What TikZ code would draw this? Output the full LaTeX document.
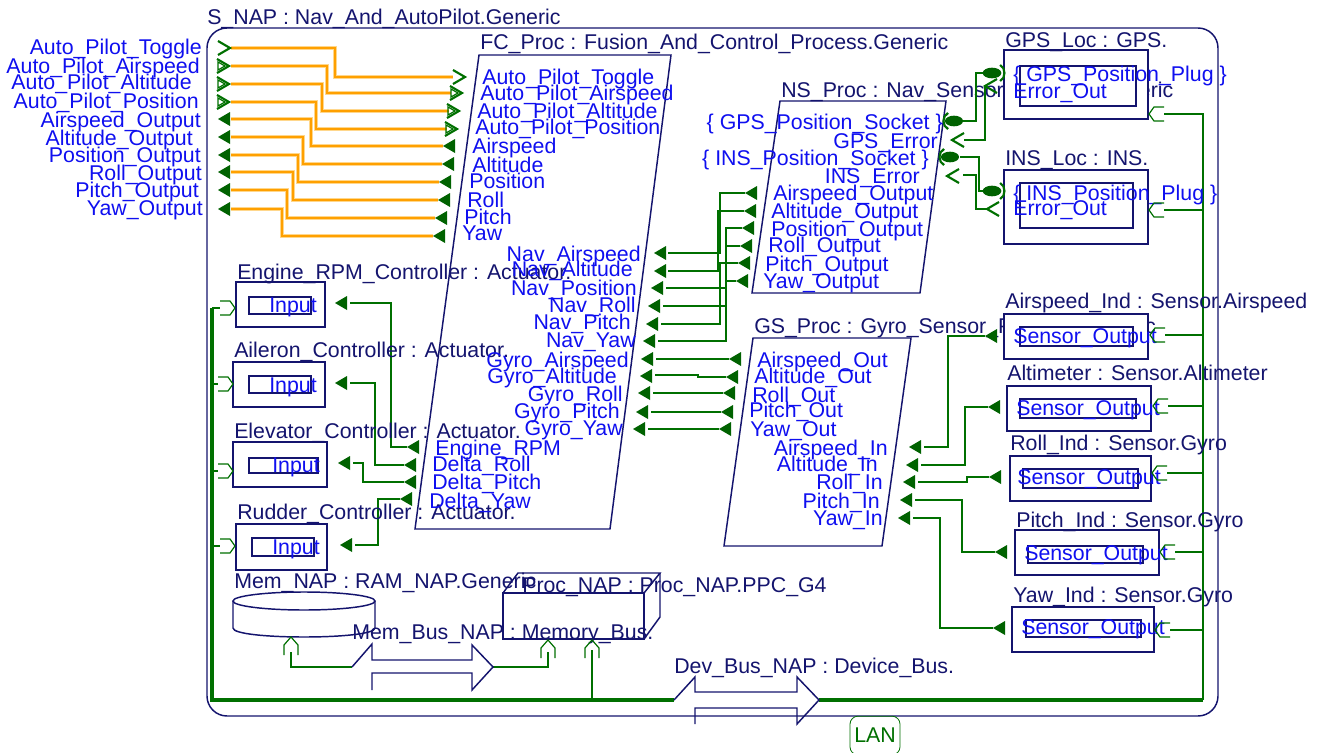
\documentclass[tikz,border=0pt]{standalone}
\usepackage{fontspec}
\setmainfont{Liberation Sans}
\definecolor{navy}{RGB}{20,20,110}
\definecolor{pblue}{RGB}{15,15,240}
\definecolor{gr}{RGB}{0,112,0}
\definecolor{grd}{RGB}{0,98,0}
\definecolor{orng}{RGB}{255,160,0}
\definecolor{orngl}{RGB}{255,215,140}
\tikzset{
 comp/.style={draw=navy,line width=1.1pt},
 compw/.style={draw=navy,line width=1.1pt,fill=white},
 clbl/.style={text=navy,font=\fontsize{16}{16}\selectfont,inner sep=0pt},
 plbl/.style={text=pblue,font=\fontsize{16}{16}\selectfont,inner sep=0pt},
 gline/.style={draw=gr,line width=1.6pt},
 oline/.style={draw=orng,line width=2pt,preaction={draw=orngl,line width=3pt}},
 busv/.style={draw=gr,line width=2pt},
 bush/.style={draw=gr,line width=2.6pt},
 gp/.style={draw=gr,line width=1.6pt},
 gpt/.style={draw=gr,line width=0.9pt},
 dtri/.pic={\fill[grd] (0,0) -- (12,-7) -- (12,7) -- cycle;},
 evr/.pic={\draw[gp] (-12,-7) -- (0,0) -- (-12,7);},
 devr/.pic={\draw[gp] (-12,-7) -- (0,0) -- (-12,7); \draw[gpt] (-11,-4) -- (-4,0) -- (-11,4) -- cycle;},
 evl/.pic={\draw[gp] (12,-7) -- (0,0) -- (12,7);},
 sockl/.pic={\draw[gp] (6,-8) .. controls (0,-5) and (0,5) .. (6,8); \fill[grd] (12,0) ellipse [x radius=6.8pt,y radius=4pt];},
 plugr/.pic={\fill[grd] (0,0) ellipse [x radius=7pt,y radius=4pt]; \draw[gp] (8,-8) .. controls (14,-5) and (14,5) .. (8,8);},
 bout/.pic={\draw[gpt] (15,-7) -- (5,-7) -- (0,0) -- (5,7) -- (15,7);},
 bin/.pic={\draw[gpt] (-15,-7) -- (-5,-7) -- (0,0) -- (-5,7) -- (-15,7);},
 bup/.pic={\draw[gpt] (-7,18) -- (-7,8) -- (0,0) -- (7,8) -- (7,18);},
}
\begin{document}
\begin{tikzpicture}[x=0.75pt,y=-0.75pt]
\useasboundingbox (0,0) rectangle (1318,753);
\fill[white] (0,0) rectangle (1318,753);

% ---------- system border ----------
\draw[comp,rounded corners=15pt] (207,28) rectangle (1218,716);
\node[clbl,anchor=base west] (tSNAP) at (207,24) {S\_NAP : Nav\_And\_AutoPilot.Generic};

% ---------- processes ----------
\draw[comp] (479,55) -- (671,55) -- (610,529) -- (415,529) -- cycle;
\node[clbl,anchor=base west] (tFC) at (480,49) {FC\_Proc : Fusion\_And\_Control\_Process.Generic};
\draw[comp] (780,101) -- (946,101) -- (920,293) -- (752,293) -- cycle;
\node[clbl,anchor=base west] (tNS) at (781,97) {NS\_Proc : Nav\_Sensor\_Process.Generic};
\draw[comp] (753,338) -- (911,338) -- (882,546) -- (724,546) -- cycle;
\node[clbl,anchor=base west] (tGS) at (754,333) {GS\_Proc : Gyro\_Sensor\_Process.Generic};

% ---------- coordinates of ports ----------
\coordinate (oT) at (231,48);   \coordinate (fT) at (453,77);
\coordinate (oAs) at (231,66);  \coordinate (fAs) at (451,93);
\coordinate (oAl) at (231,84);  \coordinate (fAl) at (449,111);
\coordinate (oPo) at (231,102); \coordinate (fPo) at (447,129);
\coordinate (oAO) at (231,119); \coordinate (fA) at (443,146);
\coordinate (oAlO) at (231,137);\coordinate (fAl2) at (442,164);
\coordinate (oPO) at (231,155); \coordinate (fP) at (439,182);
\coordinate (oRO) at (231,172); \coordinate (fR) at (438,200);
\coordinate (oPiO) at (231,190);\coordinate (fPi) at (435,218);
\coordinate (oYO) at (231,209); \coordinate (fY) at (433,236);

% orange connections
\draw[oline] (oT) -- +(104,0) |- (fT);
\draw[oline] (oAs) -- +(96,0) |- (fAs);
\draw[oline] (oAl) -- +(91,0) |- (fAl);
\draw[oline] (oPo) -- +(85,0) |- (fPo);
\draw[oline] (oAO) -- +(80,0) |- (fA);
\draw[oline] (oAlO) -- +(72,0) |- (fAl2);
\draw[oline] (oPO) -- +(67,0) |- (fP);
\draw[oline] (oRO) -- +(62,0) |- (fR);
\draw[oline] (oPiO) -- +(56,0) |- (fPi);
\draw[oline] (oYO) -- +(51,0) |- (fY);

% NS outputs -> FC nav inputs
\coordinate (nsA) at (745,193);  \coordinate (fnA) at (668,253);
\coordinate (nsAl) at (744,211); \coordinate (fnAl) at (668,271);
\coordinate (nsP) at (742,228);  \coordinate (fnP) at (666,288);
\coordinate (nsR) at (740,246);  \coordinate (fnR) at (663,306);
\coordinate (nsPi) at (738,263); \coordinate (fnPi) at (661,324);
\coordinate (nsY) at (736,281);  \coordinate (fnY) at (658,341);
\draw[gline] (nsA) -- +(-25,0) |- (fnA);
\draw[gline] (nsAl) -- +(-26,0) |- (fnAl);
\draw[gline] (nsP) -- +(-16,0) |- (fnP);
\draw[gline] (nsR) -- +(-14,0) |- (fnR);
\draw[gline] (nsPi) -- +(-18,0) |- (fnPi);
\draw[gline] (nsY) -- +(-10,0) |- (fnY);

% GS outputs -> FC gyro inputs
\coordinate (fgA) at (656,359);  \coordinate (gsA) at (729,359);
\coordinate (fgAl) at (655,375); \coordinate (gsAl) at (726,377);
\coordinate (fgR) at (653,393);  \coordinate (gsR) at (723,393);
\coordinate (fgPi) at (651,412); \coordinate (gsPi) at (721,412);
\coordinate (fgY) at (648,429);  \coordinate (gsY) at (719,429);
\draw[gline] (fgA) -- (gsA);
\draw[gline] (fgAl) -- +(43,0) |- (gsAl);
\draw[gline] (fgR) -- (gsR);
\draw[gline] (fgPi) -- (gsPi);
\draw[gline] (fgY) -- (gsY);

% sensors -> GS inputs
\coordinate (giA) at (924,447);  \coordinate (sA) at (985,336);
\coordinate (giAl) at (921,465); \coordinate (sAl) at (988,407);
\coordinate (giR) at (918,482);  \coordinate (sR) at (989,477);
\coordinate (giPi) at (915,500); \coordinate (sPi) at (995,552);
\coordinate (giY) at (913,518);  \coordinate (sY) at (993,628);
\draw[gline] (giA) -- +(24,0) |- (sA);
\draw[gline] (giAl) -- +(44,0) |- (sAl);
\draw[gline] (giR) -- +(49,0) |- (sR);
\draw[gline] (giPi) -- +(47,0) |- (sPi);
\draw[gline] (giY) -- +(27,0) |- (sY);

% FC actuator outputs -> controllers
\coordinate (cE) at (350,303);  \coordinate (fE) at (407,447);
\coordinate (cA) at (350,383);  \coordinate (fDR) at (404,465);
\coordinate (cEl) at (353,463); \coordinate (fDP) at (404,482);
\coordinate (cR) at (355,545);  \coordinate (fDY) at (400,499);
\draw[gline] (cE) -- +(41,0) |- (fE);
\draw[gline] (cA) -- +(25,0) |- (fDR);
\draw[gline] (cEl) -- +(10,0) |- (fDP);
\draw[gline] (cR) -- +(23,0) |- (fDY);

% NS <-> GPS / INS
\coordinate (nsGS) at (963,121); \coordinate (gPL) at (983,73);
\coordinate (nsGE) at (964,140); \coordinate (gEV) at (985,86);
\coordinate (nsIS) at (960,157); \coordinate (iPL) at (983,191);
\coordinate (nsIE) at (963,175); \coordinate (iEV) at (987,209);
\draw[gline] (nsGS) -- +(13,0) |- (gPL);
\draw[gline] (nsGE) -| (gEV);
\draw[gline] (nsIS) -- +(19,0) |- (iPL);
\draw[gline] (nsIE) -- +(13,0) |- (iEV);

% ---------- buses ----------
\coordinate (dbL) at (674,700);
\coordinate (dbT) at (819,700);
\coordinate (bLT) at (212,308);
\coordinate (bRB) at (1203,700);
\coordinate (eP) at (220,308);
\coordinate (aP) at (218,384);
\coordinate (elP) at (218,471);
\coordinate (rP) at (220,546);
\coordinate (gpsP) at (1164,114);
\coordinate (insP) at (1164,210);
\coordinate (asP) at (1165,335);
\coordinate (amP) at (1168,406);
\coordinate (roP) at (1167,473);
\coordinate (piP) at (1175,552);
\coordinate (yaP) at (1170,630);
\coordinate (procDP) at (592,650);
\coordinate (procMP) at (548,652);
\coordinate (memP) at (291,652);
\coordinate (mbL) at (352,667);
\coordinate (mbT) at (493,667);

\draw[bush] (dbL) -| (bLT);
\draw[busv] (bLT) -- (eP);
\draw[busv] (bLT |- aP) -- (aP);
\draw[busv] (bLT |- elP) -- (elP);
\draw[busv] (bLT |- rP) -- (rP);
\draw[bush,line width=3.4pt] (dbT) -- (bRB);
\draw[busv] (bRB) |- (gpsP);
\draw[busv] (bRB |- insP) -- (insP);
\draw[busv] (bRB |- asP) -- (asP);
\draw[busv] (bRB |- amP) -- (amP);
\draw[busv] (bRB |- roP) -- (roP);
\draw[busv] (bRB |- piP) -- (piP);
\draw[busv] (bRB |- yaP) -- (yaP);
\draw[busv] (procDP) -- (procDP |- dbL);
\draw[gline] (memP) |- (mbL);
\draw[gline] (mbT) -| (procMP);

% bus symbols
\draw[comp] (352,667) -- (372,644) -- (372,660) -- (472,660) -- (472,645) -- (493,667) -- (472,690) -- (472,673) -- (372,673) -- (372,690);
\node[clbl,anchor=base west] (tMB) at (352,639) {Mem\_Bus\_NAP : Memory\_Bus.};
\draw[comp] (674,700) -- (695,677) -- (695,692) -- (797,692) -- (797,677) -- (819,700) -- (797,724) -- (797,708) -- (695,708) -- (695,724);
\node[clbl,anchor=base west] (tDB) at (674,673) {Dev\_Bus\_NAP : Device\_Bus.};

% memory
\draw[comp] (304,601) ellipse [x radius=53.25pt,y radius=6.75pt];
\draw[comp] (233,601) -- (233,628) .. controls (233,640) and (375,640) .. (375,628) -- (375,601);
\node[clbl,anchor=base west] (tMem) at (234,588) {Mem\_NAP : RAM\_NAP.Generic};
% processor
\draw[comp] (503,593) rectangle (644,639);
\draw[comp] (503,593) -- (518,573) -- (660,573) -- (644,593);
\draw[comp] (660,573) -- (660,617) -- (644,639);
\node[clbl,anchor=base west] (tProc) at (522,592) {Proc\_NAP : Proc\_NAP.PPC\_G4};

% LAN
\node[draw=gr,line width=0.6pt,rounded corners=6pt,minimum width=37.5pt,minimum height=29pt,inner sep=0pt,text=gr,font=\fontsize{16}{16}\selectfont] (lan) at (875,735.5) {LAN};

% ---------- devices ----------
\draw[comp] (236,282) rectangle (325,327); \draw[comp] (249,297) rectangle (311,314);
\draw[comp] (233,362) rectangle (325,407); \draw[comp] (249,376) rectangle (311,393);
\draw[comp] (233,442) rectangle (327,487); \draw[comp] (249,458) rectangle (318,473);
\draw[comp] (236,524) rectangle (327,570); \draw[comp] (252,538) rectangle (314,556);
\node[clbl,anchor=base west] (tEng) at (237,279) {Engine\_RPM\_Controller : Actuator.};
\node[clbl,anchor=base west] (tAil) at (234,357) {Aileron\_Controller : Actuator.};
\node[clbl,anchor=base west] (tEle) at (234,438) {Elevator\_Controller : Actuator.};
\node[clbl,anchor=base west] (tRud) at (237,519) {Rudder\_Controller : Actuator.};
\node[plbl,anchor=base west] (pEng) at (269,312) {Input};
\node[plbl,anchor=base west] (pAil) at (269,392) {Input};
\node[plbl,anchor=base west] (pEle) at (272,472) {Input};
\node[plbl,anchor=base west] (pRud) at (272,554) {Input};

\draw[compw] (1004,50) rectangle (1148,119); \draw[comp] (1020,66) rectangle (1136,106);
\node[clbl,anchor=base west] (tGPS) at (1005,47) {GPS\_Loc : GPS.};
\node[plbl,anchor=base west] (pGPS1) at (1013,81) {\{ GPS\_Position\_Plug \}};
\node[plbl,anchor=base west] (pGPS2) at (1013,98) {Error\_Out};
\draw[compw] (1004,170) rectangle (1148,244); \draw[comp] (1020,183) rectangle (1133,228);
\node[clbl,anchor=base west] (tINS) at (1005,165) {INS\_Loc : INS.};
\node[plbl,anchor=base west] (pINS1) at (1013,200) {\{ INS\_Position\_Plug \}};
\node[plbl,anchor=base west] (pINS2) at (1013,215) {Error\_Out};

\draw[compw] (1004,314) rectangle (1148,359); \draw[comp] (1020,327) rectangle (1133,346);
\node[clbl,anchor=base west] (tAS) at (1005,308) {Airspeed\_Ind : Sensor.Airspeed};
\node[plbl,anchor=base west] (pAS) at (1013,343) {Sensor\_Output};
\draw[compw] (1007,386) rectangle (1151,431); \draw[comp] (1020,399) rectangle (1136,418);
\node[clbl,anchor=base west] (tAM) at (1007,380) {Altimeter : Sensor.Altimeter};
\node[plbl,anchor=base west] (pAM) at (1016,415) {Sensor\_Output};
\draw[compw] (1010,456) rectangle (1151,501); \draw[comp] (1023,469) rectangle (1138,488);
\node[clbl,anchor=base west] (tRO) at (1010,450) {Roll\_Ind : Sensor.Gyro};
\node[plbl,anchor=base west] (pRO) at (1017,484) {Sensor\_Output};
\draw[compw] (1015,530) rectangle (1159,575); \draw[comp] (1028,546) rectangle (1143,563);
\node[clbl,anchor=base west] (tPI) at (1016,527) {Pitch\_Ind : Sensor.Gyro};
\node[plbl,anchor=base west] (pPI) at (1024,560) {Sensor\_Output};
\draw[compw] (1012,607) rectangle (1154,652); \draw[comp] (1026,620) rectangle (1141,637);
\node[clbl,anchor=base west] (tYA) at (1013,602) {Yaw\_Ind : Sensor.Gyro};
\node[plbl,anchor=base west] (pYA) at (1021,634) {Sensor\_Output};

% ---------- port glyphs ----------
\pic at (230,48) {evr};
\pic at (229,66) {devr};
\pic at (229,84) {devr};
\pic at (229,102) {devr};
\foreach \y in {119,137,155,172,190,209} {\pic at (218,\y) {dtri};}
\pic at (465,77) {evr};
\pic at (462,93) {devr};
\pic at (459,111) {devr};
\pic at (457,129) {devr};
\pic at (fA) {dtri}; \pic at (fAl2) {dtri}; \pic at (fP) {dtri};
\pic at (fR) {dtri}; \pic at (fPi) {dtri}; \pic at (fY) {dtri};
\pic at (654,253) {dtri}; \pic at (654,271) {dtri}; \pic at (651,288) {dtri};
\pic at (648,306) {dtri}; \pic at (646,324) {dtri}; \pic at (643,341) {dtri};
\pic at (641,359) {dtri}; \pic at (640,376) {dtri}; \pic at (638,393) {dtri};
\pic at (636,412) {dtri}; \pic at (633,429) {dtri};
\pic at (fE) {dtri}; \pic at (fDR) {dtri}; \pic at (fDP) {dtri}; \pic at (fDY) {dtri};
\pic at (335,303) {dtri}; \pic at (335,383) {dtri}; \pic at (338,463) {dtri}; \pic at (340,545) {dtri};
\pic at (nsA) {dtri}; \pic at (nsAl) {dtri}; \pic at (nsP) {dtri};
\pic at (nsR) {dtri}; \pic at (nsPi) {dtri}; \pic at (nsY) {dtri};
\pic at (729,359) {dtri}; \pic at (726,377) {dtri}; \pic at (723,393) {dtri};
\pic at (721,412) {dtri}; \pic at (719,429) {dtri};
\pic at (909,447) {dtri}; \pic at (906,465) {dtri}; \pic at (903,482) {dtri};
\pic at (900,500) {dtri}; \pic at (898,518) {dtri};
\pic at (sA) {dtri}; \pic at (sAl) {dtri}; \pic at (sR) {dtri}; \pic at (sPi) {dtri}; \pic at (sY) {dtri};
\pic at (942,121) {sockl};
\pic at (938,157) {sockl};
\pic at (952,140) {evl};
\pic at (947,176) {evl};
\pic at (992,73) {plugr};
\pic at (992,191) {plugr};
\pic at (gEV) {evl};
\pic at (iEV) {evl};
\pic at (1149,114) {bout};
\pic at (1149,210) {bout};
\pic at (1150,335) {bout};
\pic at (1153,406) {bout};
\pic at (1152,473) {bout};
\pic at (1160,552) {bout};
\pic at (1155,630) {bout};
\pic at (235,308) {bin};
\pic at (233,384) {bin};
\pic at (233,471) {bin};
\pic at (235,546) {bin};
\pic at (291,637) {bup};
\pic at (548,640) {bup};
\pic at (592,640) {bup};

% ---------- port labels ----------
\node[plbl,anchor=base east] (l1) at (202,55) {Auto\_Pilot\_Toggle};
\node[plbl,anchor=base east] (l2) at (200,73) {Auto\_Pilot\_Airspeed};
\node[plbl,anchor=base east] (l3) at (192,89) {Auto\_Pilot\_Altitude};
\node[plbl,anchor=base east] (l4) at (199,108) {Auto\_Pilot\_Position};
\node[plbl,anchor=base east] (l5) at (201,127) {Airspeed\_Output};
\node[plbl,anchor=base east] (l6) at (193,145) {Altitude\_Output};
\node[plbl,anchor=base east] (l7) at (201,162) {Position\_Output};
\node[plbl,anchor=base east] (l8) at (202,180) {Roll\_Output};
\node[plbl,anchor=base east] (l9) at (199,197) {Pitch\_Output};
\node[plbl,anchor=base east] (l10) at (203,215) {Yaw\_Output};

\node[plbl,anchor=base west] (f1) at (482,84) {Auto\_Pilot\_Toggle};
\node[plbl,anchor=base west] (f2) at (480,100) {Auto\_Pilot\_Airspeed};
\node[plbl,anchor=base west] (f3) at (477,118) {Auto\_Pilot\_Altitude};
\node[plbl,anchor=base west] (f4) at (475,134) {Auto\_Pilot\_Position};
\node[plbl,anchor=base west] (f5) at (472,153) {Airspeed};
\node[plbl,anchor=base west] (f6) at (472,172) {Altitude};
\node[plbl,anchor=base west] (f7) at (469,188) {Position};
\node[plbl,anchor=base west] (f8) at (467,207) {Roll};
\node[plbl,anchor=base west] (f9) at (464,224) {Pitch};
\node[plbl,anchor=base west] (f10) at (462,240) {Yaw};
\node[plbl,anchor=base east] (f11) at (641,261) {Nav\_Airspeed};
\node[plbl,anchor=base east] (f12) at (633,276) {Nav\_Altitude};
\node[plbl,anchor=base east] (f13) at (637,295) {Nav\_Position};
\node[plbl,anchor=base east] (f14) at (636,312) {Nav\_Roll};
\node[plbl,anchor=base east] (f15) at (631,329) {Nav\_Pitch};
\node[plbl,anchor=base east] (f16) at (636,347) {Nav\_Yaw};
\node[plbl,anchor=base east] (f17) at (629,367) {Gyro\_Airspeed};
\node[plbl,anchor=base east] (f18) at (617,383) {Gyro\_Altitude};
\node[plbl,anchor=base east] (f19) at (623,401) {Gyro\_Roll};
\node[plbl,anchor=base east] (f20) at (620,418) {Gyro\_Pitch};
\node[plbl,anchor=base east] (f21) at (623,435) {Gyro\_Yaw};
\node[plbl,anchor=base west] (f22) at (435,455) {Engine\_RPM};
\node[plbl,anchor=base west] (f23) at (432,471) {Delta\_Roll};
\node[plbl,anchor=base west] (f24) at (432,489) {Delta\_Pitch};
\node[plbl,anchor=base west] (f25) at (429,508) {Delta\_Yaw};

\node[plbl,anchor=base east] (n1) at (943,129) {\{ GPS\_Position\_Socket \}};
\node[plbl,anchor=base east] (n2) at (938,148) {GPS\_Error};
\node[plbl,anchor=base east] (n3) at (929,165) {\{ INS\_Position\_Socket \}};
\node[plbl,anchor=base east] (n4) at (920,183) {INS\_Error};
\node[plbl,anchor=base west] (n5) at (773,200) {Airspeed\_Output};
\node[plbl,anchor=base west] (n6) at (771,218) {Altitude\_Output};
\node[plbl,anchor=base west] (n7) at (771,236) {Position\_Output};
\node[plbl,anchor=base west] (n8) at (768,252) {Roll\_Output};
\node[plbl,anchor=base west] (n9) at (765,271) {Pitch\_Output};
\node[plbl,anchor=base west] (n10) at (763,288) {Yaw\_Output};

\node[plbl,anchor=base west] (g1) at (757,367) {Airspeed\_Out};
\node[plbl,anchor=base west] (g2) at (754,383) {Altitude\_Out};
\node[plbl,anchor=base west] (g3) at (752,402) {Roll\_Out};
\node[plbl,anchor=base west] (g4) at (749,417) {Pitch\_Out};
\node[plbl,anchor=base west] (g5) at (750,436) {Yaw\_Out};
\node[plbl,anchor=base east] (g6) at (888,455) {Airspeed\_In};
\node[plbl,anchor=base east] (g7) at (878,471) {Altitude\_In};
\node[plbl,anchor=base east] (g8) at (883,489) {Roll\_In};
\node[plbl,anchor=base east] (g9) at (880,508) {Pitch\_In};
\node[plbl,anchor=base east] (g10) at (883,525) {Yaw\_In};
\end{tikzpicture}
\end{document}
